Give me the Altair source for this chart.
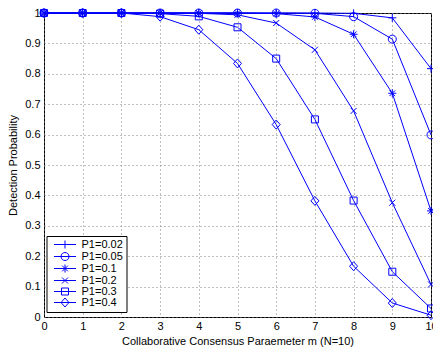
import altair as alt
import pandas as pd

m_values = list(range(11))
series_names = ["P1=0.02", "P1=0.05", "P1=0.1", "P1=0.2", "P1=0.3", "P1=0.4"]
pd_002 = [1, 1, 1, 1, 1, 1, 1, 1, 0.999, 0.984, 0.817]
pd_005 = [1, 1, 1, 1, 1, 1, 1, 0.999, 0.988, 0.914, 0.599]
pd_01 = [1, 1, 1, 1, 1, 1, 0.998, 0.987, 0.930, 0.736, 0.349]
pd_02 = [1, 1, 1, 1, 0.999, 0.994, 0.967, 0.879, 0.678, 0.376, 0.107]
pd_03 = [1, 1, 1, 0.998, 0.989, 0.953, 0.850, 0.650, 0.383, 0.149, 0.028]
pd_04 = [1, 1, 1, 0.988, 0.945, 0.834, 0.633, 0.382, 0.167, 0.046, 0.006]
all_series = [pd_002, pd_005, pd_01, pd_02, pd_03, pd_04]

rows = []
for name, vals in zip(series_names, all_series):
    for m, v in zip(m_values, vals):
        rows.append({"m": m, "p": v, "series": name})
df = pd.DataFrame(rows)

BLUE = "#0000ff"
FONT = "Liberation Sans"

# marker outlines in units of 5px (symbol size 100)
marker_paths = [
    "M-0.8,0L0.8,0M0,-0.8L0,0.8",
    "M0.8,0A0.8,0.8,0,1,1,-0.8,0A0.8,0.8,0,1,1,0.8,0Z",
    "M-0.8,0L0.8,0M0,-0.8L0,0.8M-0.57,-0.57L0.57,0.57M-0.57,0.57L0.57,-0.57",
    "M-0.6,-0.6L0.6,0.6M-0.6,0.6L0.6,-0.6",
    "M-0.7,-0.7L0.7,-0.7L0.7,0.7L-0.7,0.7Z",
    "M0,-0.9L0.8,0L0,0.9L-0.8,0Z",
]
# legend glyphs (line + marker) in units of 4px (symbol size 64)
legend_paths = [
    "M-2.75,0L2.75,0M0,-1L0,1",
    "M-2.75,0L2.75,0M1,0A1,1,0,1,1,-1,0A1,1,0,1,1,1,0Z",
    "M-2.75,0L2.75,0M0,-1L0,1M-0.71,-0.71L0.71,0.71M-0.71,0.71L0.71,-0.71",
    "M-2.75,0L2.75,0M-0.75,-0.75L0.75,0.75M-0.75,0.75L0.75,-0.75",
    "M-2.75,0L2.75,0M-0.875,-0.875L0.875,-0.875L0.875,0.875L-0.875,0.875Z",
    "M-2.75,0L2.75,0M0,-1.125L1,0L0,1.125L-1,0Z",
]

x_enc = alt.X(
    "m:Q",
    scale=alt.Scale(domain=[0, 10], nice=False, zero=False),
    axis=alt.Axis(
        values=m_values,
        title="Collaborative Consensus Paraemeter m (N=10)",
        ticks=False, domain=False, labelPadding=3, titlePadding=4,
        labelFlush=False,
    ),
)
y_enc = alt.Y(
    "p:Q",
    scale=alt.Scale(domain=[0, 1], nice=False),
    axis=alt.Axis(
        values=[i / 10 for i in range(11)],
        format=".1~f",
        title="Detection Probability",
        ticks=False, domain=False, labelPadding=4, titlePadding=6,
        labelFlush=False,
    ),
)

base = alt.Chart(df)

lines = base.mark_line(color=BLUE, strokeWidth=1, clip=False).encode(
    x=x_enc, y=y_enc, detail="series:N"
)

points = base.mark_point(
    filled=False, color=BLUE, size=100, strokeWidth=1, opacity=1, clip=False
).encode(
    x=x_enc,
    y=y_enc,
    shape=alt.Shape(
        "series:N",
        scale=alt.Scale(domain=series_names, range=marker_paths),
        legend=None,
    ),
)

legend_layer = base.transform_filter("false").mark_point(
    filled=False, color=BLUE, size=64, strokeWidth=1, opacity=1
).encode(
    x=x_enc,
    y=y_enc,
    shape=alt.Shape(
        "series:N",
        scale=alt.Scale(domain=series_names, range=legend_paths),
        legend=alt.Legend(
            title=None,
            orient="none",
            legendX=2.5,
            legendY=223,
            padding=3,
            strokeColor="black",
            fillColor="white",
            cornerRadius=0,
            symbolSize=64,
            symbolStrokeColor=BLUE,
            symbolStrokeWidth=1,
            symbolFillColor="transparent",
            symbolOffset=10,
            labelOffset=11,
            labelFont=FONT,
            labelFontSize=11,
            labelColor="black",
            rowPadding=-1,
        ),
    ),
)

chart = (
    alt.layer(lines, points, legend_layer)
    .resolve_scale(shape="independent")
    .properties(
        width=387,
        height=304,
        autosize=alt.AutoSizeParams(type="none"),
        padding={"left": 36, "top": 5, "right": 2, "bottom": 30},
    )
    .configure_view(stroke="black", strokeWidth=1)
    .configure_axis(
        labelFont=FONT,
        titleFont=FONT,
        labelFontSize=11,
        titleFontSize=11,
        titleFontWeight="normal",
        labelColor="black",
        titleColor="black",
        grid=True,
        gridColor="#7f7f7f",
        gridDash=[1, 3],
        gridWidth=1,
        gridOpacity=1,
    )
)

chart.save("out.html", embed_options={"renderer": "svg", "actions": False})
